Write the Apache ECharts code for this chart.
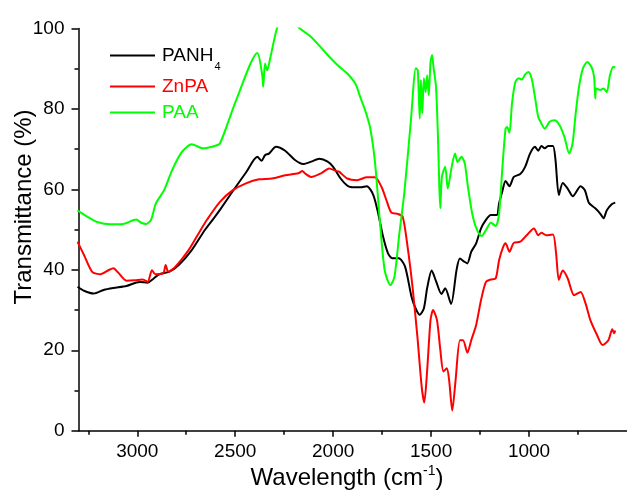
<!DOCTYPE html>
<html>
<head>
<meta charset="utf-8">
<script src="https://cdn.jsdelivr.net/npm/echarts@6/dist/echarts.min.js"></script>
<style>
  html, body { margin: 0; padding: 0; background: #fff; }
  #chart { width: 627px; height: 491px; }
</style>
</head>
<body>
<div id="chart"></div>
<script>
// FTIR spectra: wavenumber (cm^-1) and transmittance (%) per sample
const panh4Wn = [3305,3272,3222,3172,3122,3055,2988,2947,2922,2888,2838,2788,2722,2655,2605,2578,2512,2445,2387,2365,2348,2328,2292,2245,2195,2153,2112,2070,2028,2000,1962,1930,1912,1862,1828,1795,1770,1745,1720,1698,1665,1633,1600,1580,1558,1537,1520,1497,1475,1447,1428,1398,1370,1353,1330,1315,1295,1270,1245,1220,1195,1165,1153,1137,1120,1100,1078,1045,1020,995,970,953,937,920,903,878,865,848,828,803,777,737,715,695,662,637,620,603,578,560];
const panh4T  = [35.8,34.8,34.1,35.0,35.5,36.0,37.0,36.8,37.6,38.9,39.5,41.2,44.9,49.9,53.1,54.9,59.6,64.2,68.1,67.1,68.5,68.9,70.6,69.6,67.3,66.3,66.9,67.6,66.9,65.6,62.7,61.0,60.6,60.5,60.8,58.6,54.0,48.2,44.1,42.9,42.9,40.8,33.3,30.5,28.8,30.4,35.5,39.8,37.2,34.0,35.4,31.5,40.0,42.8,42.0,41.6,44.5,46.6,50.3,52.4,53.6,53.6,56.5,59.4,62.1,60.8,63.1,63.8,65.6,68.9,70.6,69.6,70.8,70.2,70.8,70.8,67.3,58.6,61.6,60.2,58.3,60.8,59.8,56.7,55.3,54.0,52.8,54.8,56.3,56.7];

const znpaWn = [3305,3272,3230,3188,3147,3122,3097,3055,3013,2972,2947,2925,2908,2868,2855,2842,2805,2738,2672,2645,2578,2512,2445,2378,2312,2245,2178,2157,2145,2112,2062,2020,1987,1970,1928,1878,1828,1787,1753,1728,1703,1670,1645,1620,1595,1570,1548,1535,1520,1503,1490,1470,1453,1437,1420,1408,1392,1375,1353,1337,1315,1295,1270,1245,1220,1195,1170,1153,1132,1120,1100,1078,1045,1012,975,953,937,912,878,862,848,828,803,770,737,712,687,653,625,595,575,565,560];
const znpaT  = [47.0,43.7,39.5,38.9,39.9,40.4,39.3,37.3,37.4,37.6,37.0,39.9,38.9,39.1,41.2,39.5,40.8,44.9,50.3,52.4,56.9,59.8,61.5,62.5,62.7,63.5,64.0,64.6,64.0,63.1,64.0,65.2,64.6,64.4,62.7,62.3,63.0,63.0,60.6,57.3,54.2,53.9,53.2,45.7,35.8,23.4,10.9,7.0,15.1,27.5,30.0,27.5,20.1,14.7,15.5,12.6,5.0,12.6,22.5,22.5,19.4,22.5,26.3,32.5,37.0,37.6,37.9,42.4,45.7,46.6,44.5,46.7,47.0,48.6,50.3,48.6,49.2,48.6,48.8,44.1,37.5,39.8,37.9,33.7,34.5,31.7,27.5,23.8,21.3,22.5,25.2,24.2,24.9];

const paaWn = [3305,3255,3205,3138,3072,3005,2980,2955,2930,2905,2863,2822,2772,2722,2663,2605,2578,2495,2387,2362,2357,2348,2337,2320,2287,2260,2230,2200,2170,2112,2028,1978,1928,1887,1862,1837,1812,1787,1762,1737,1708,1687,1662,1637,1603,1578,1568,1558,1552,1545,1537,1528,1520,1512,1503,1495,1487,1475,1465,1458,1453,1445,1428,1415,1395,1378,1365,1345,1328,1312,1287,1262,1242,1220,1195,1170,1153,1137,1120,1112,1100,1087,1070,1053,1037,1020,1003,987,970,953,937,920,895,870,845,820,795,778,762,745,725,703,682,668,662,657,637,620,603,587,570,560];
const paaT  = [54.8,53.2,51.9,51.3,51.4,52.5,51.7,51.4,52.4,56.5,59.8,64.8,69.3,71.2,70.2,70.8,71.4,82.2,93.9,88.4,85.5,91.3,89.6,92.9,100,102,102.5,101.5,100,97.9,93.4,90.9,88.8,86.3,83.0,79.7,75.5,67.0,52.4,39.9,36.2,38.3,49.1,59.0,77.2,90.1,89.6,77.6,87.2,78.9,87.6,84.2,88.4,83.4,91.7,93.4,90.1,85.5,73.1,60.6,55.3,63.1,65.6,60.2,65.6,68.9,66.8,68.1,66.4,60.6,53.2,49.5,48.4,49.9,51.7,50.9,54.0,64.8,75.1,75.5,74.1,81.4,86.7,87.6,87.3,88.6,89.2,87.6,83.0,78.0,76.4,75.1,76.8,77.2,76.0,73.1,68.9,71.4,78.9,85.5,90.1,91.7,90.5,88.0,82.6,85.1,84.7,85.1,84.2,88.4,90.5,90.3];

// Axis ticks
const xMajorTicks = [1000, 1500, 2000, 2500, 3000];
const xMinorTicks = [750, 1250, 1750, 2250, 2750, 3250];

const FONT = 'Liberation Sans, Arial, Helvetica, sans-serif';
const pairs = (xs, ys) => xs.map((x, i) => [x, ys[i]]);

const chart = echarts.init(document.getElementById('chart'), null, { renderer: 'canvas' });

function legendFor(name, color, top) {
  return {
    data: [name],
    left: 110,
    top: top,
    padding: 0,
    icon: 'rect',
    itemWidth: 45,
    itemHeight: 2,
    itemGap: 0,
    selectedMode: true,
    textStyle: {
      color: color,
      fontSize: 19,
      fontFamily: FONT,
      padding: [0, 0, 0, 2],
      rich: {
        sub: { fontSize: 11, fontFamily: FONT, color: color, padding: [22, 0, 0, 1] }
      }
    },
    formatter: n => n === 'PANH4' ? 'PANH{sub|4}' : n
  };
}

chart.setOption({
  animation: false,
  backgroundColor: '#fff',
  grid: { left: 78.5, top: 28.5, right: -12, bottom: 60.3, containLabel: false },
  legend: [
    legendFor('PANH4', '#000000', 46),
    legendFor('ZnPA', '#ff0000', 77),
    legendFor('PAA', '#00ff00', 103)
  ],
  xAxis: [
    {
      type: 'value', min: 500, max: 3300, inverse: true, position: 'bottom',
      axisLine: { show: true, onZero: false, lineStyle: { color: '#000', width: 1.5 } },
      axisTick: { show: true, customValues: xMajorTicks, length: 6, inside: false, lineStyle: { color: '#000', width: 1.5 } },
      axisLabel: { show: true, customValues: xMajorTicks, margin: 12, fontSize: 19, color: '#000', fontFamily: FONT,
                   formatter: v => String(v) },
      splitLine: { show: false }
    },
    {
      type: 'value', min: 500, max: 3300, inverse: true, position: 'bottom',
      axisLine: { show: false, onZero: false },
      axisTick: { show: true, customValues: xMinorTicks, length: 4, lineStyle: { color: '#000', width: 1.5 } },
      axisLabel: { show: false },
      splitLine: { show: false }
    }
  ],
  yAxis: {
    type: 'value', min: 0, max: 100, interval: 20,
    axisLine: { show: true, onZero: false, lineStyle: { color: '#000', width: 1.5 } },
    axisTick: { show: true, length: 7, lineStyle: { color: '#000', width: 1.5 } },
    minorTick: { show: true, splitNumber: 2, length: 4, lineStyle: { color: '#000', width: 1.5 } },
    axisLabel: { margin: 14, fontSize: 19, color: '#000', fontFamily: FONT, formatter: v => String(v) },
    splitLine: { show: false }
  },
  series: [
    { name: 'PANH4', type: 'line', data: pairs(panh4Wn, panh4T), symbol: 'none', smooth: 0.25,
      lineStyle: { color: '#000000', width: 2 }, itemStyle: { color: '#000000' } },
    { name: 'ZnPA', type: 'line', data: pairs(znpaWn, znpaT), symbol: 'none', smooth: 0.25,
      lineStyle: { color: '#ff0000', width: 2 }, itemStyle: { color: '#ff0000' } },
    { name: 'PAA', type: 'line', data: pairs(paaWn, paaT), symbol: 'none', smooth: 0.25,
      lineStyle: { color: '#00ff00', width: 2 }, itemStyle: { color: '#00ff00' } }
  ],
  graphic: [
    {
      type: 'text', x: 24, y: 207, rotation: Math.PI / 2,
      style: { text: 'Transmittance (%)', align: 'center', verticalAlign: 'middle',
               fontSize: 24, fontFamily: FONT, fill: '#000' }
    },
    {
      type: 'text', x: 347, y: 478,
      style: { text: 'Wavelength (cm{sup|-1})', align: 'center', verticalAlign: 'middle',
               fontSize: 24, fontFamily: FONT, fill: '#000',
               rich: { sup: { fontSize: 14, fontFamily: FONT, fill: '#000', padding: [0, 0, 14, 0] } } }
    }
  ]
});
</script>
</body>
</html>
